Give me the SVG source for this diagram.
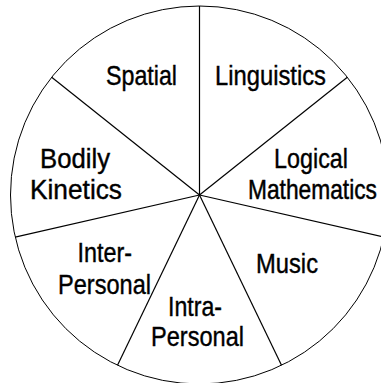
<svg xmlns="http://www.w3.org/2000/svg" width="381" height="383" viewBox="0 0 381 383">
<style>
.rim{fill:#fff;stroke:#000;stroke-width:1}
.spoke{stroke:#000;stroke-width:1.2;fill:none}
.lbl{font-family:"Liberation Sans",Arial,sans-serif;font-size:27.5px;fill:#000;stroke:#000;stroke-width:0.4}
</style>
<rect width="381" height="383" fill="#fff"/>
<circle class="rim" cx="199.5" cy="195" r="189"/>
<g id="dividers">
<line class="spoke" x1="199.5" y1="195" x2="199.5" y2="6"/>
<line class="spoke" x1="199.5" y1="195" x2="347.3" y2="77.2"/>
<line class="spoke" x1="199.5" y1="195" x2="383.8" y2="237.1"/>
<line class="spoke" x1="199.5" y1="195" x2="281.5" y2="365.3"/>
<line class="spoke" x1="199.5" y1="195" x2="117.5" y2="365.3"/>
<line class="spoke" x1="199.5" y1="195" x2="15.2" y2="237.1"/>
<line class="spoke" x1="199.5" y1="195" x2="51.7" y2="77.2"/>
</g>
<g id="spatial"><text class="lbl" x="106" y="85" textLength="71" lengthAdjust="spacingAndGlyphs">Spatial</text></g>
<g id="linguistics"><text class="lbl" x="215" y="85" textLength="111" lengthAdjust="spacingAndGlyphs">Linguistics</text></g>
<g id="bodily"><text class="lbl" x="40" y="168" textLength="70" lengthAdjust="spacingAndGlyphs">Bodily</text><text class="lbl" x="30" y="199" textLength="92" lengthAdjust="spacingAndGlyphs">Kinetics</text></g>
<g id="logical"><text class="lbl" x="274" y="168" textLength="74" lengthAdjust="spacingAndGlyphs">Logical</text><text class="lbl" x="248" y="199" style="font-size:23px" textLength="129" lengthAdjust="spacingAndGlyphs" transform="translate(0,-34.8) scale(1,1.175)">Mathematics</text></g>
<g id="interpersonal"><text class="lbl" x="77.5" y="262" textLength="54.5" lengthAdjust="spacingAndGlyphs">Inter-</text><text class="lbl" x="58" y="294" textLength="93" lengthAdjust="spacingAndGlyphs">Personal</text></g>
<g id="intrapersonal"><text class="lbl" x="168" y="316" textLength="54" lengthAdjust="spacingAndGlyphs">Intra-</text><text class="lbl" x="151" y="346" textLength="93" lengthAdjust="spacingAndGlyphs">Personal</text></g>
<g id="music"><text class="lbl" x="256" y="273" textLength="62" lengthAdjust="spacingAndGlyphs">Music</text></g>
</svg>
